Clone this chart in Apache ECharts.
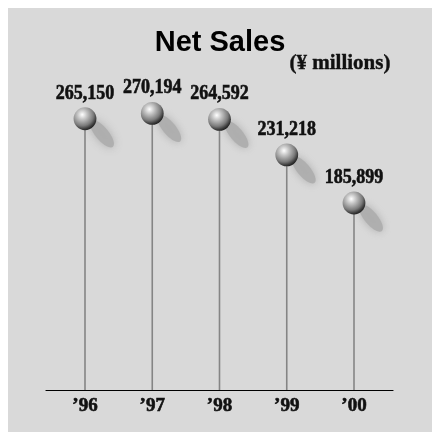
<!DOCTYPE html>
<html>
<head>
<meta charset="utf-8">
<style>
  html, body { margin: 0; padding: 0; background: #ffffff; }
  #chart { width: 432px; height: 432px; }
</style>
<script src="https://cdn.jsdelivr.net/npm/echarts@6/dist/echarts.min.js"></script>
</head>
<body>
<div id="chart"></div>
<script>
// Net sales by fiscal year, in millions of yen
const years = ['\u201996', '\u201997', '\u201998', '\u201999', '\u201900'];
const netSales = [265150, 270194, 264592, 231218, 185899];

const Y_MIN = 10000;
const Y_MAX = 300000;
const BG = '#d9d9d9';
const SERIF = '"Liberation Serif", "Times New Roman", serif';
const INK = '#111111';

const chart = echarts.init(document.getElementById('chart'), null, { renderer: 'canvas' });

const ballFill = new echarts.graphic.RadialGradient(0.38, 0.32, 0.7, [
  { offset: 0, color: '#ffffff' },
  { offset: 0.3, color: '#c4c4c4' },
  { offset: 0.7, color: '#7a7a7a' },
  { offset: 0.9, color: '#3c3c3c' },
  { offset: 1, color: '#222222' }
]);

function renderPin(params, api) {
  const idx = api.value(0);
  const val = api.value(1);
  const top = api.coord([idx, val]);
  const base = api.coord([idx, Y_MIN]);
  const r = 11.4;
  return {
    type: 'group',
    children: [
      {
        type: 'line',
        shape: { x1: top[0], y1: top[1], x2: base[0], y2: base[1] },
        style: { stroke: '#858585', lineWidth: 1.6 }
      },
      // soft cast shadow falling to the lower right of the ball
      {
        type: 'ellipse',
        x: top[0] + 17,
        y: top[1] + 15,
        rotation: -50 * Math.PI / 180,
        shape: { cx: 0, cy: 0, rx: 17, ry: 6.5 },
        style: {
          fill: 'rgba(174,174,174,0.95)',
          shadowBlur: 9,
          shadowColor: 'rgba(172,172,172,1)'
        }
      },
      {
        type: 'circle',
        shape: { cx: top[0], cy: top[1], r: r },
        style: { fill: ballFill }
      },
      {
        type: 'text',
        x: top[0],
        y: top[1] - r - 4,
        scaleX: 0.9,
        style: {
          text: echarts.format.addCommas(val),
          x: 0, y: 0,
          align: 'center',
          verticalAlign: 'bottom',
          fontFamily: SERIF,
          fontWeight: 'bold',
          fontSize: 20,
          fill: INK,
          stroke: INK,
          lineWidth: 0.6
        }
      }
    ]
  };
}

chart.setOption({
  animation: false,
  backgroundColor: '#ffffff',
  graphic: [
    {
      type: 'rect', z: -10, silent: true,
      shape: { x: 8, y: 8, width: 424, height: 424 },
      style: { fill: BG }
    },
    {
      type: 'text', z: 10,
      style: {
        text: 'Net Sales', x: 220, y: 43,
        align: 'center', verticalAlign: 'middle',
        fontFamily: '"Liberation Sans", Arial, sans-serif',
        fontWeight: 'bold',
        fontSize: 29,
        fill: '#000000'
      }
    },
    {
      type: 'text', z: 10,
      style: {
        text: '(\u00a5 millions)', x: 340, y: 64,
        align: 'center', verticalAlign: 'middle',
        fontFamily: SERIF,
        fontWeight: 'bold',
        fontSize: 21,
        fill: INK,
        stroke: INK,
        lineWidth: 0.4
      }
    }
  ],
  grid: { left: 46, right: 39, top: 81.7, bottom: 42 },
  xAxis: {
    type: 'value',
    min: -0.58,
    max: 4.58,
    splitLine: { show: false },
    axisTick: { show: false },
    axisLine: { show: true, lineStyle: { color: '#000000', width: 1.2 } },
    axisLabel: {
      customValues: [0, 1, 2, 3, 4],
      formatter: function (v) { return years[Math.round(v)]; },
      margin: 7,
      color: INK,
      fontFamily: SERIF,
      fontWeight: 'bold',
      fontSize: 19,
      textBorderColor: INK,
      textBorderWidth: 0.6
    }
  },
  yAxis: {
    type: 'value',
    min: Y_MIN,
    max: Y_MAX,
    show: false,
    splitLine: { show: false }
  },
  series: [
    {
      type: 'custom',
      renderItem: renderPin,
      clip: false,
      data: netSales.map(function (v, i) { return [i, v]; })
    }
  ]
});
</script>
</body>
</html>
